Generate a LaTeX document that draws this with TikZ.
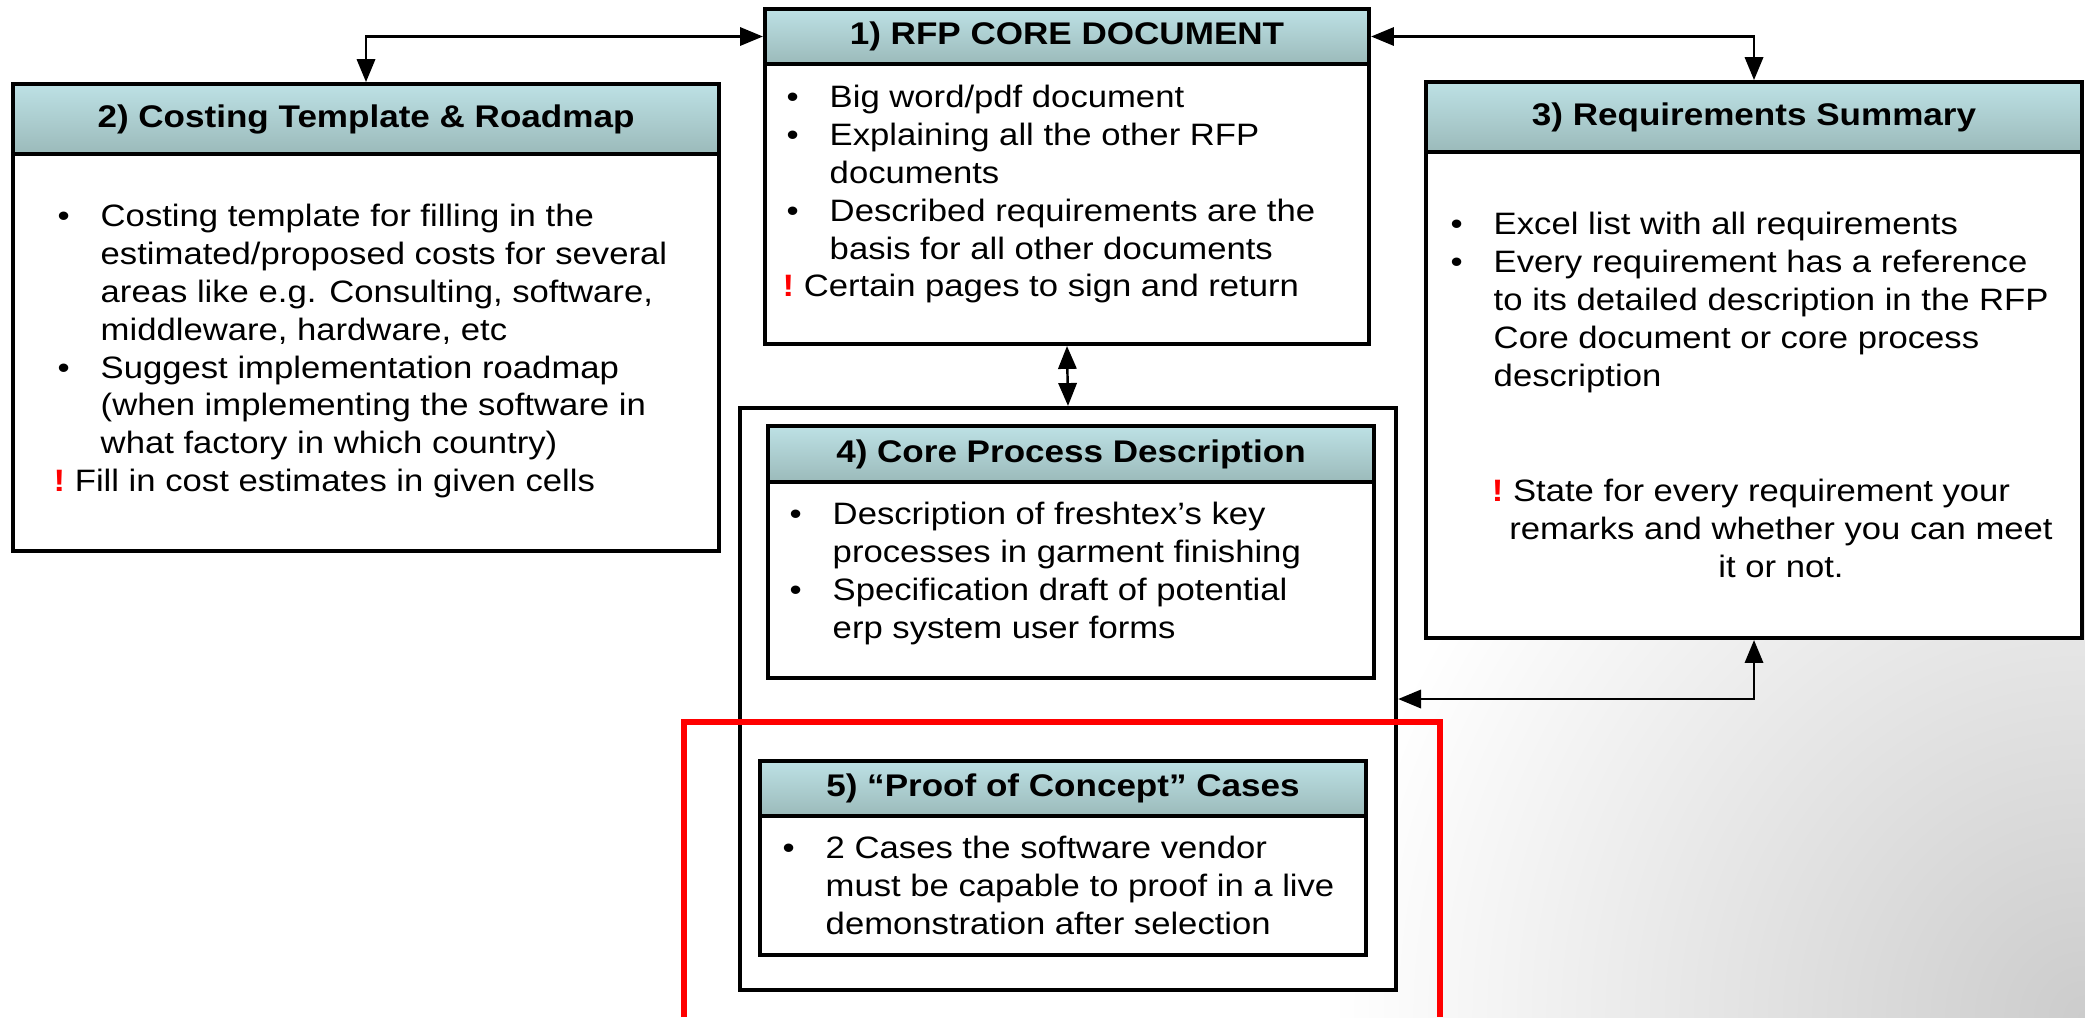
\documentclass[tikz,border=0pt]{standalone}
\usepackage{fontspec}
\setmainfont{Liberation Sans}[FakeStretch=1.12]
\usepackage{xcolor}
\usetikzlibrary{positioning,arrows.meta,fadings}
\definecolor{hdrtop}{RGB}{189,225,229}
\definecolor{hdrbot}{RGB}{155,186,186}
\tikzfading[name=cornerfade, inner color=transparent!0, outer color=transparent!100]
\newcommand{\bitem}{\makebox[0.41cm][l]{\hspace{-0.02cm}\textbullet}}
\newcommand{\bcont}{\makebox[0.41cm]{}}
\newcommand{\bwarn}{\hspace*{-0.06cm}{\color{red}\bfseries !}\ }

\begin{document}
\begin{tikzpicture}[x=0.01cm, y=-0.01cm,
    docbox/.style = {draw, line width=1.1pt, fill=white, inner sep=0pt},
    hdr/.style = {draw, line width=1.1pt, top color=hdrtop, bottom color=hdrbot, inner sep=0pt,
                  font=\fontsize{8.9}{10.7}\selectfont\bfseries},
    txt/.style = {font=\fontsize{8.8}{10.76}\selectfont, align=left, inner sep=0pt, anchor=north west},
    link/.style = {line width=0.7pt, {Triangle[length=6.5pt,width=5.2pt]}-{Triangle[length=6.5pt,width=5.2pt]}}]
  \useasboundingbox (0,0) rectangle (2085,1017);
  \begin{scope}
    \clip (0,0) rectangle (2085,1017);
    \fill[black!20, path fading=cornerfade] (2085,1017) circle[radius=7.5cm];
  \end{scope}

  \node[docbox, minimum width=6.56cm, minimum height=5.82cm] (outer) at (1068,699) {};

  \node[docbox, minimum width=6.04cm, minimum height=2.80cm] (core) at (1067,204) {};
  \node[hdr, minimum width=6.04cm, minimum height=0.55cm] (coreh) at (1067,36.5) {1) RFP CORE DOCUMENT};
  \node[docbox, minimum width=7.06cm, minimum height=3.97cm] (cost) at (366,352.5) {};
  \node[hdr, minimum width=7.06cm, minimum height=0.70cm] (costh) at (366,119) {2) Costing Template \& Roadmap};
  \node[docbox, minimum width=6.56cm, minimum height=4.86cm] (req) at (1754,395) {};
  \node[hdr, minimum width=6.56cm, minimum height=0.70cm] (reqh) at (1754,117) {3) Requirements Summary};
  \node[docbox, minimum width=6.06cm, minimum height=1.96cm] (proc) at (1071,580) {};
  \node[hdr, minimum width=6.06cm, minimum height=0.56cm] (proch) at (1071,454) {4) Core Process Description};
  \node[docbox, minimum width=6.06cm, minimum height=1.39cm] (poc) at (1063,885.5) {};
  \node[hdr, minimum width=6.06cm, minimum height=0.55cm] (poch) at (1063,788.5) {5) “Proof of Concept” Cases};

  \node[txt] (coret) at (788,80.5) {\strut\bitem Big word/pdf document\\
    \bitem Explaining all the other RFP\\
    \bcont documents\\
    \bitem Described requirements are the\\
    \bcont basis for all other documents\\
    \bwarn Certain pages to sign and return};
  \node[txt] (costt) at (59,199.5) {\strut\bitem Costing template for filling in the\\
    \bcont estimated/proposed costs for several\\
    \bcont areas like e.g. Consulting, software,\\
    \bcont middleware, hardware, etc\\
    \bitem Suggest implementation roadmap\\
    \bcont (when implementing the software in\\
    \bcont what factory in which country)\\
    \bwarn Fill in cost estimates in given cells};
  \node[txt] (reqt) at (1452,207.5) {\strut\bitem Excel list with all requirements\\
    \bitem Every requirement has a reference\\
    \bcont to its detailed description in the RFP\\
    \bcont Core document or core process\\
    \bcont description};
  \node[txt, align=center, anchor=north] (reqw) at (1781,474.5) {\strut\bwarn State for every requirement your\hspace*{0.54cm}\\
    remarks and whether you can meet\\
    it or not.};
  \node[txt] (proct) at (791,497.5) {\strut\bitem Description of freshtex’s key\\
    \bcont processes in garment finishing\\
    \bitem Specification draft of potential\\
    \bcont erp system user forms};
  \node[txt] (poct) at (784,831.5) {\strut\bitem 2 Cases the software vendor\\
    \bcont must be capable to proof in a live\\
    \bcont demonstration after selection};

  \draw[link] (costh.north) |- (coreh.west);
  \draw[link] (coreh.east) -| (reqh.north);
  \draw[link] (core.south) -- (outer.north);
  \draw[link] (req.south) |- (outer.east);

  \draw[red, line width=1.8pt] (684,1017) -- (684,722) -- (1440,722) -- (1440,1017);
\end{tikzpicture}
\end{document}
